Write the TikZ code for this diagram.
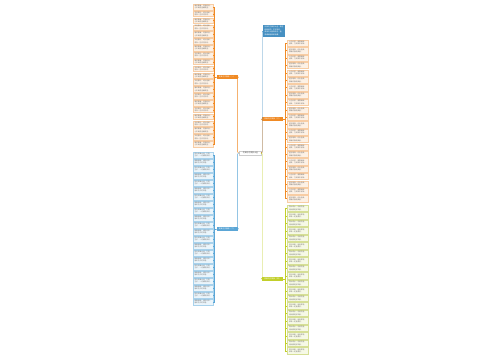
\documentclass[tikz,border=0pt]{standalone}
\usepackage{fontspec}
\newfontfamily\cjk{Noto Sans CJK SC}
\definecolor{orgline}{HTML}{F08A24}
\definecolor{orgfill}{HTML}{FDF1E5}
\definecolor{orgdraw}{HTML}{F8CDA4}
\definecolor{bluline}{HTML}{5BA6D6}
\definecolor{blufill}{HTML}{EBF5FB}
\definecolor{bludraw}{HTML}{A9D2EC}
\definecolor{tealbox}{HTML}{4690C2}
\definecolor{grnline}{HTML}{C2CF2A}
\definecolor{grnfill}{HTML}{F6F9E6}
\definecolor{grndraw}{HTML}{D6DF96}
\begin{document}
\begin{tikzpicture}[x=1pt,y=-1pt,
  leafbox/.style={draw, line width=0.3pt, inner sep=0pt, minimum width=#1, align=left,
    font=\cjk\fontsize{1.7}{2.3}\selectfont, text=black!55},
  branchbox/.style={inner sep=0pt, minimum width=21pt, minimum height=3.6pt,
    font=\cjk\fontsize{1.8}{2.2}\selectfont, text=white},
  centerbox/.style={draw=black!20, line width=0.3pt, fill=white, inner sep=0pt,
    minimum width=22pt, minimum height=4pt, font=\cjk\fontsize{1.9}{2.3}\selectfont, text=black!75},
  link/.style={line width=0.4pt},
]
\useasboundingbox (0,0) rectangle (500,360);
\fill[white] (0,0) rectangle (500,360);

% central node
\node[centerbox] (c) at (250.5,153) {优美句子摘抄大全};

% branch nodes
\node[branchbox, fill=orgline] (L1) at (227,77) {优美句子摘抄（一）};
\node[branchbox, fill=bluline] (L2) at (227,229) {优美句子摘抄（二）};
\node[branchbox, fill=tealbox, minimum width=22pt, minimum height=12pt, align=left,
  font=\cjk\fontsize{1.7}{2.5}\selectfont] (R0) at (274,31)
  {优美句子摘抄大全，精选\\经典语句，字字珠玑，\\读来令人回味无穷，值\\得细细品味和收藏。};
\node[branchbox, fill=orgline] (R1) at (272.5,119) {优美句子摘抄（三）};
\node[branchbox, fill=grnline] (R2) at (272.5,279) {优美句子摘抄（四）};

% center to branches
\draw[link, orgline, rounded corners=1pt] (c.west) -- ++(-1.8,0) |- (L1.east);
\draw[link, bluline, rounded corners=1pt] (c.west) -- ++(-1.8,0) |- (L2.east);
\draw[link, tealbox, rounded corners=1pt] (c.east) -- ++(0.6,0) |- (R0.west);
\draw[link, orgline, rounded corners=1pt] (c.east) -- ++(0.6,0) |- (R1.west);
\draw[link, grnline, rounded corners=1pt] (c.east) -- ++(0.6,0) |- (R2.west);

% left orange leaves
\foreach \i in {1,...,21}{
  \node[leafbox=20pt, fill=orgfill, draw=orgdraw, minimum height=5.6pt]
    (lo\i) at (203, {4+(\i-1)*6.86+2.9})
    {\ifodd\i 春风拂面，花香四溢，\\心中满是温暖希望。\else 岁月静好，时光温柔，\\愿你一生安然无恙。\fi};
  \draw[link, orgline] (L1.west) -- ++(-2,0) |- (lo\i.east);
}
% left blue leaves
\foreach \i in {1,...,22}{
  \node[leafbox=20pt, fill=blufill, draw=bludraw, minimum height=5.8pt]
    (lb\i) at (203, {152+(\i-1)*7+3})
    {\ifodd\i 阳光洒满大地，万物\\生长，一切都很美好。\else 细雨绵绵，润物无声，\\静听花开的声音。\fi};
  \draw[link, bluline] (L2.west) -- ++(-2,0) |- (lb\i.east);
}
% right orange leaves
\foreach \i in {1,...,22}{
  \node[leafbox=21pt, fill=orgfill, draw=orgdraw, minimum height=6.2pt]
    (ro\i) at (297.5, {40+(\i-1)*7.4+3.2})
    {\ifodd\i 人生如茶，需要细细\\品味，方知其中滋味。\else 星河璀璨，月色温柔，\\夜晚安静而美丽。\fi};
  \draw[link, orgline] (R1.east) -- ++(2,0) |- (ro\i.west);
}
% right green leaves
\foreach \i in {1,...,20}{
  \node[leafbox=21pt, fill=grnfill, draw=grndraw, minimum height=6.4pt]
    (rg\i) at (297.5, {205+(\i-1)*7.5+3.3})
    {\ifodd\i 青山绿水，鸟语花香，\\处处都是好风景。\else 努力奔跑，追逐梦想，\\未来一定会更好。\fi};
  \draw[link, grnline] (R2.east) -- ++(2,0) |- (rg\i.west);
}
\end{tikzpicture}
\end{document}
